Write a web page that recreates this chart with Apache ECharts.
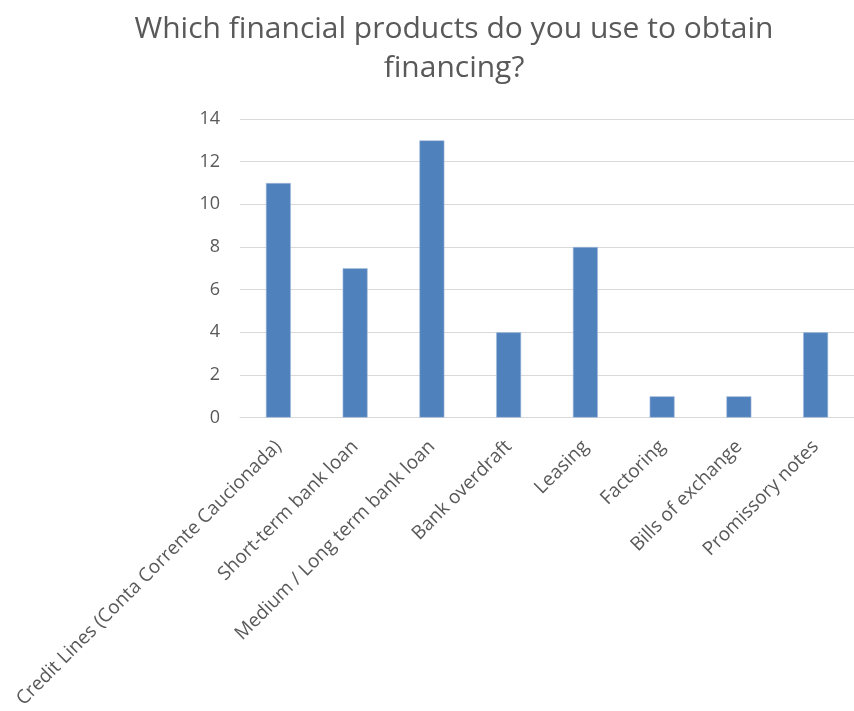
<!DOCTYPE html>
<html>
<head>
<meta charset="utf-8">
<script src="https://cdn.jsdelivr.net/npm/echarts@6/dist/echarts.min.js"></script>
<style>
  html, body { margin: 0; padding: 0; background: #ffffff; }
  #chart { width: 854px; height: 711px; }
</style>
</head>
<body>
<div id="chart"></div>
<script>
// Survey answers: number of respondents using each financing product
const categories = [
  'Credit Lines (Conta Corrente Caucionada)',
  'Short-term bank loan',
  'Medium / Long term bank loan',
  'Bank overdraft',
  'Leasing',
  'Factoring',
  'Bills of exchange',
  'Promissory notes'
];
const responses = [11, 7, 13, 4, 8, 1, 1, 4];
const yTicks = [0, 2, 4, 6, 8, 10, 12, 14];

const textColor = '#595959';
const fontFamily = '"Open Sans", "Noto Sans", sans-serif';

const chart = echarts.init(document.getElementById('chart'), null, { renderer: 'canvas' });

chart.setOption({
  backgroundColor: '#ffffff',
  animation: false,
  title: {
    text: 'Which financial products do you use to obtain\nfinancing?',
    left: 449,
    textAlign: 'center',
    top: 5,
    textStyle: {
      fontFamily: fontFamily,
      fontSize: 30,
      fontWeight: 'normal',
      color: textColor,
      lineHeight: 39
    }
  },
  grid: {
    left: 240,
    top: 119,
    width: 628,
    height: 300,
    containLabel: false
  },
  xAxis: {
    type: 'category',
    data: categories,
    axisLine: { show: true, lineStyle: { color: '#d9d9d9', width: 1 } },
    axisTick: { show: false },
    axisLabel: {
      rotate: 45,
      interval: 0,
      margin: 26,
      color: textColor,
      fontFamily: fontFamily,
      fontSize: 19
    }
  },
  yAxis: {
    type: 'value',
    min: yTicks[0],
    max: yTicks[yTicks.length - 1],
    interval: 2,
    axisLine: { show: false },
    axisTick: { show: false },
    splitLine: { show: true, lineStyle: { color: '#d9d9d9', width: 1 } },
    axisLabel: {
      margin: 20,
      color: textColor,
      fontFamily: fontFamily,
      fontSize: 18
    }
  },
  series: [{
    type: 'bar',
    data: responses,
    barWidth: 25,
    itemStyle: {
      color: '#4f81bd',
      borderColor: '#a9c0de',
      borderWidth: 0.6
    }
  }]
});
</script>
</body>
</html>
